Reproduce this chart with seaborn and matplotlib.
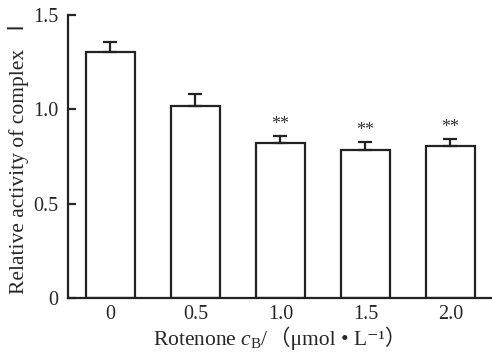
import matplotlib
matplotlib.use("Agg")
import matplotlib.pyplot as plt
import seaborn as sns
import pandas as pd

# Values
doses = ["0", "0.5", "1.0", "1.5", "2.0"]
activity = [1.304, 1.019, 0.823, 0.786, 0.804]
sem = [0.053, 0.060, 0.037, 0.043, 0.040]
marks = ["", "", "**", "**", "**"]

sns.set_style("ticks")
plt.rcParams['font.family'] = ['Liberation Serif', 'Noto Sans CJK SC', 'DejaVu Sans']
plt.rcParams['mathtext.fontset'] = 'custom'
plt.rcParams['mathtext.rm'] = 'Liberation Serif'
plt.rcParams['mathtext.it'] = 'Liberation Serif:italic'

df = pd.DataFrame({"dose": doses, "activity": activity})

fig = plt.figure(figsize=(4.92, 3.53), dpi=100)
ax = fig.add_axes([0.138, 0.156, 0.862, 0.8015])

sns.barplot(data=df, x="dose", y="activity", color="white", edgecolor="#222222",
            linewidth=1.6, width=0.57, saturation=1, ax=ax)

# Only upper error bars
xs = range(len(doses))
ax.errorbar(xs, activity, yerr=[[0] * len(sem), sem], fmt="none",
            ecolor="#222222", elinewidth=1.6, capsize=5, capthick=1.6)

# Significance marks
for i, m in enumerate(marks):
    if m:
        ax.text(i, activity[i] + sem[i] + 0.015, m, ha="center", va="bottom",
                fontsize=13, color="#333333")

ax.set_ylim(0, 1.5)
ax.set_xlim(-0.5, 4.49)
ax.set_yticks([0, 0.5, 1.0, 1.5])
ax.set_yticklabels(["0", "0.5", "1.0", "1.5"])
ax.tick_params(axis="y", direction="in", length=6, width=1.6, labelsize=14.5, pad=7)
ax.tick_params(axis="x", length=0, labelsize=14.5, pad=5)
ax.set_xlabel("")
ax.set_ylabel("")

# Axis titles placed by hand (the unit part needs the CJK fallback, outside mathtext)
fig.text(0.037, 0.56, "Relative activity of complex  Ⅰ", rotation=90,
         ha="center", va="center", fontsize=15.5)
fig.text(0.546, 0.024, r"Rotenone $c_{\rm B}$/", ha="right", va="baseline", fontsize=15.5)
fig.text(0.546, 0.024, "（μmol • L⁻¹）", ha="left", va="baseline", fontsize=15.5)

for s in ["top", "right"]:
    ax.spines[s].set_visible(False)
for s in ["left", "bottom"]:
    ax.spines[s].set_linewidth(1.6)
    ax.spines[s].set_color("#222222")

fig.savefig("out.png", dpi=100)
